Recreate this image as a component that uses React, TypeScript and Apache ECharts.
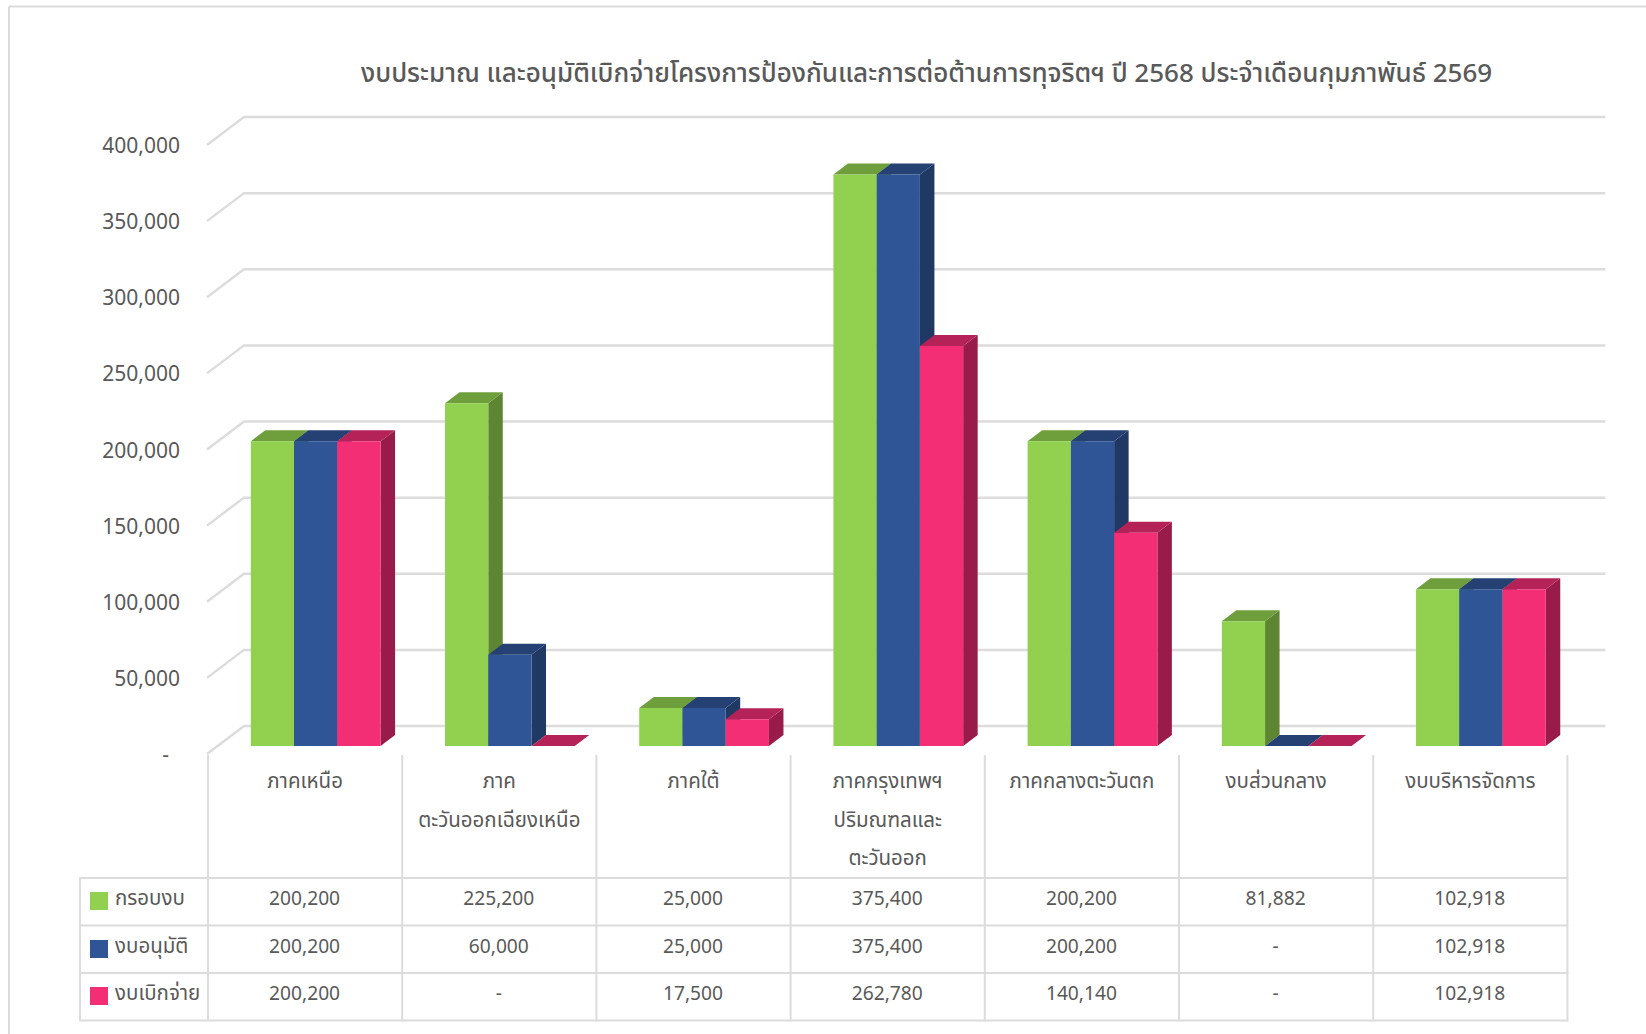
import React, { useEffect, useRef } from "react";
import * as echarts from "echarts";

const titleText = "งบประมาณ และอนุมัติเบิกจ่ายโครงการป้องกันและการต่อต้านการทุจริตฯ ปี 2568 ประจำเดือนกุมภาพันธ์ 2569";
const categories = [
  "ภาคเหนือ",
  "ภาค\nตะวันออกเฉียงเหนือ",
  "ภาคใต้",
  "ภาคกรุงเทพฯ\nปริมณฑลและ\nตะวันออก",
  "ภาคกลางตะวันตก",
  "งบส่วนกลาง",
  "งบบริหารจัดการ",
];
const seriesNames = ["กรอบงบ", "งบอนุมัติ", "งบเบิกจ่าย"];
const frameValues = [200200, 225200, 25000, 375400, 200200, 81882, 102918];
const approvedValues = [200200, 60000, 25000, 375400, 200200, 0, 102918];
const paidValues = [200200, 0, 17500, 262780, 140140, 0, 102918];
const yTicks = [0, 50000, 100000, 150000, 200000, 250000, 300000, 350000, 400000];

const faceColors = ["#92D050", "#2F5597", "#F42E74"];
const topColors = ["#6F9F3D", "#254174", "#B52257"];
const sideColors = ["#5E8531", "#1F3864", "#991B49"];

const FONT = '"Noto Sans", "Noto Sans Thai", Tahoma, sans-serif';
const TEXT = "#595959";
const LINE = "#DCDCDC";

const fmt = (v: number) => (v === 0 ? "-" : v.toLocaleString("en-US"));

function barSeries(idx: number, values: number[]) {
  return {
    type: "custom",
    name: seriesNames[idx],
    coordinateSystem: "cartesian2d",
    z: 3 + idx,
    clip: false,
    encode: { x: 0, y: 1 },
    data: values.map((v, i) => [i, v]),
    renderItem: (_p: any, api: any) => {
      const pt = api.coord([api.value(0), api.value(1)]);
      const base = api.coord([api.value(0), 0]);
      const band = api.size([1, 0])[0];
      const w = band * 0.2227;
      const left = pt[0] - band * 0.5 + band * 0.2205 + idx * w;
      const right = left + w;
      const top = pt[1] - 8;
      const bottom = base[1] - 8;
      const dx = 14.5;
      const dy = 11;
      return {
        type: "group",
        children: [
          {
            type: "polygon",
            shape: { points: [[right, bottom], [right + dx, bottom - dy], [right + dx, top - dy], [right, top]] },
            style: { fill: sideColors[idx] },
          },
          {
            type: "polygon",
            shape: { points: [[left, top], [left + dx, top - dy], [right + dx, top - dy], [right, top]] },
            style: { fill: topColors[idx] },
          },
          {
            type: "rect",
            shape: { x: left, y: top, width: w, height: bottom - top },
            style: { fill: faceColors[idx] },
          },
        ],
      };
    },
  };
}

const gridSeries = {
  type: "custom",
  coordinateSystem: "cartesian2d",
  silent: true,
  z: 1,
  clip: false,
  encode: { x: 0, y: 1 },
  data: yTicks.map((t) => [0, t]),
  renderItem: (p: any, api: any) => {
    const y = api.coord([0, api.value(1)])[1];
    const cs = p.coordSys;
    return {
      type: "polyline",
      shape: { points: [[cs.x - 1, y], [cs.x + 36, y - 28], [cs.x + cs.width + 38, y - 28]] },
      style: { stroke: LINE, lineWidth: 2.5, fill: "none" },
    };
  },
};

const GRID_LEFT = 208;
const BAND = 194.2;
const colX = categories.map((_, i) => GRID_LEFT + BAND * i).concat(GRID_LEFT + BAND * categories.length);
const rowY = [878, 925.5, 973, 1020.5];
const rowText = [897.3, 945.3, 992.3];
const swatchY = [892, 940, 987];

function tableGraphics() {
  const out: any[] = [];
  const ln = (x1: number, y1: number, x2: number, y2: number, lineWidth = 2) => ({
    type: "line",
    silent: true,
    shape: { x1, y1, x2, y2 },
    style: { stroke: LINE, lineWidth },
  });
  // outer frame of the picture
  out.push(ln(9, 1034, 9, 6.5), ln(9, 6.5, 1646, 6.5));
  rowY.forEach((y) => out.push(ln(80, y, colX[7] + 1, y)));
  out.push(ln(80, 877, 80, 1021.5));
  colX.forEach((x) => out.push(ln(x, 755, x, 1021.5)));
  const rows = [frameValues, approvedValues, paidValues];
  rows.forEach((vals, r) => {
    out.push({
      type: "rect",
      shape: { x: 90, y: swatchY[r], width: 18, height: 18 },
      style: { fill: faceColors[r] },
    });
    out.push({
      type: "text",
      x: 115,
      y: rowText[r] - 0.5,
      style: { text: seriesNames[r], font: `20.5px ${FONT}`, fill: TEXT, align: "left", verticalAlign: "middle" },
    });
    vals.forEach((v, i) => {
      out.push({
        type: "text",
        x: colX[i] + BAND / 2 - 0.5,
        y: rowText[r],
        style: { text: fmt(v), font: `19.2px ${FONT}`, fill: TEXT, align: "center", verticalAlign: "middle" },
      });
    });
  });
  return out;
}

export default function App() {
  const ref = useRef<HTMLDivElement>(null);
  useEffect(() => {
    document.body.style.margin = "0";
    const chart = echarts.init(ref.current!, null, { renderer: "svg" });
    chart.setOption({
      animation: false,
      backgroundColor: "#fff",
      textStyle: { fontFamily: FONT },
      title: {
        text: titleText,
        left: 356,
        top: 54,
        textStyle: { fontFamily: FONT, fontSize: 26, fontWeight: 500, color: TEXT },
      },
      grid: { left: GRID_LEFT, top: 145, width: BAND * categories.length, height: 609, containLabel: false },
      xAxis: {
        type: "category",
        data: categories,
        axisLine: { show: false },
        axisTick: { show: false },
        splitLine: { show: false },
        axisLabel: {
          interval: 0,
          margin: 7,
          fontFamily: FONT,
          fontSize: 20.5,
          color: TEXT,
          lineHeight: 38.5,
          align: "center",
          verticalAlign: "top",
        },
      },
      yAxis: {
        type: "value",
        min: 0,
        max: 400000,
        interval: 50000,
        axisLine: { show: false },
        axisTick: { show: false },
        splitLine: { show: false },
        axisLabel: {
          margin: 28,
          fontFamily: FONT,
          fontSize: 21,
          color: TEXT,
          formatter: (v: number) => (v === 0 ? "{d|-}" : fmt(v)),
          rich: { d: { fontFamily: FONT, fontSize: 21, color: TEXT, padding: [0, 11, 0, 0] } },
        },
      },
      graphic: tableGraphics(),
      series: [
        gridSeries,
        barSeries(0, frameValues),
        barSeries(1, approvedValues),
        barSeries(2, paidValues),
      ],
    });
    return () => chart.dispose();
  }, []);
  return <div ref={ref} style={{ position: "absolute", left: 0, top: 0, width: 1646, height: 1034 }} />;
}
